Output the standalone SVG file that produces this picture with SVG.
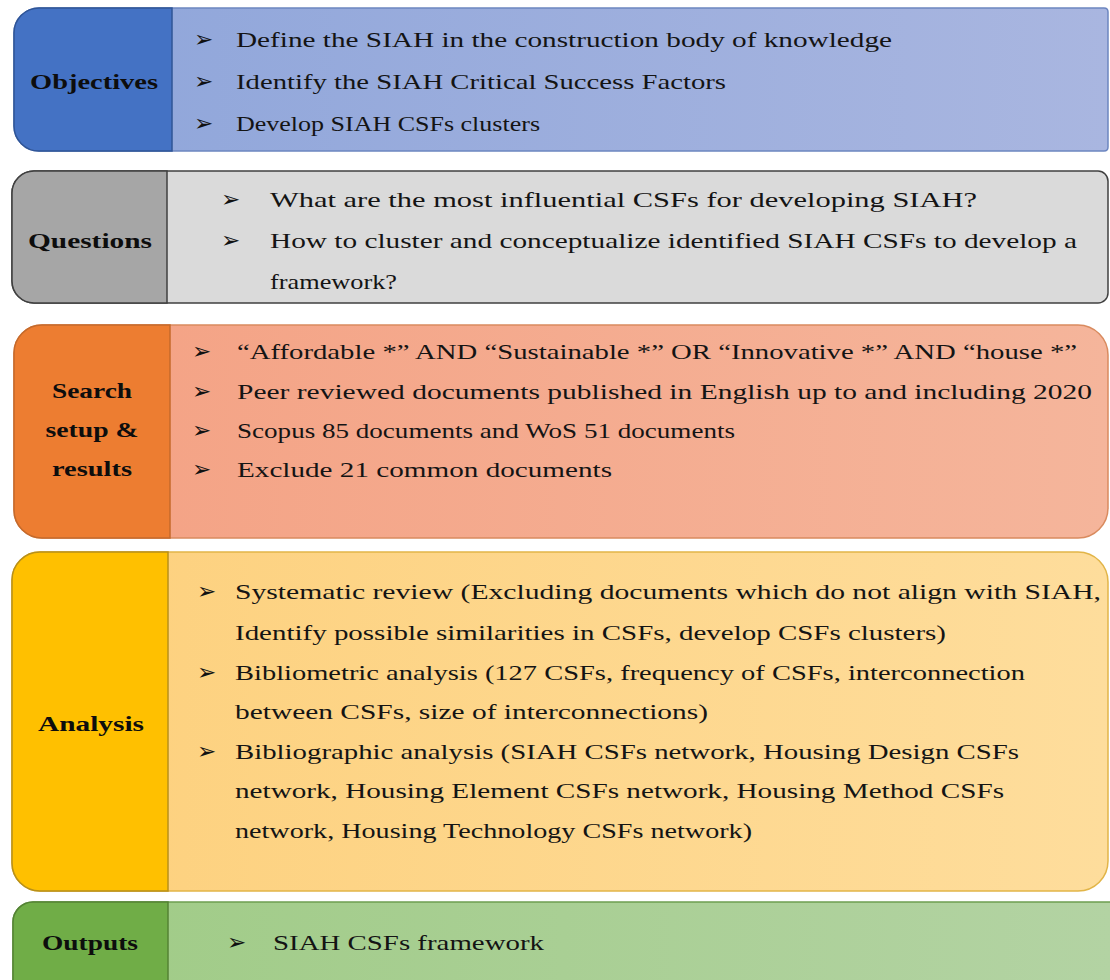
<svg xmlns="http://www.w3.org/2000/svg" width="1110" height="980" viewBox="0 0 1110 980">
<style>
  .t { font-family: "Liberation Serif", "Times New Roman", serif; font-size: 22px; fill: #141414; }
  .lb { font-family: "Liberation Serif", "Times New Roman", serif; font-size: 22px; font-weight: bold; fill: #0d0d0d; text-anchor: middle; }
  .b { font-family: "DejaVu Sans", sans-serif; font-size: 23px; fill: #111; }
</style>
<defs>
  <linearGradient id="gObj" x1="0" x2="1" y1="0" y2="0"><stop offset="0" stop-color="#8EA5DA"/><stop offset="1" stop-color="#A9B6E0"/></linearGradient>
  <linearGradient id="gSea" x1="0" x2="1" y1="0" y2="0"><stop offset="0" stop-color="#F4A183"/><stop offset="1" stop-color="#F5B59B"/></linearGradient>
  <linearGradient id="gAna" x1="0" x2="1" y1="0" y2="0"><stop offset="0" stop-color="#FDD07C"/><stop offset="1" stop-color="#FEDD9C"/></linearGradient>
  <linearGradient id="gOut" x1="0" x2="1" y1="0" y2="0"><stop offset="0" stop-color="#9FCB85"/><stop offset="1" stop-color="#B3D3A3"/></linearGradient>
</defs>
<rect width="1110" height="980" fill="#ffffff"/>

<g id="objectives">
  <path d="M39,8 H1104 Q1108,8 1108,12 V147 Q1108,151 1104,151 H39 A25,25 0 0 1 14,126 V33 A25,25 0 0 1 39,8 Z" fill="url(#gObj)" stroke="#6C86C0" stroke-width="1.5"/>
  <path d="M39,8 H172 V151 H39 A25,25 0 0 1 14,126 V33 A25,25 0 0 1 39,8 Z" fill="#4472C4" stroke="#2F5597" stroke-width="1.5"/>
  <text class="lb" x="94" y="89" textLength="128" lengthAdjust="spacingAndGlyphs">Objectives</text>
  <text class="b" x="194" y="47">➢</text>
  <text class="t" x="236" y="47" textLength="656" lengthAdjust="spacingAndGlyphs">Define the SIAH in the construction body of knowledge</text>
  <text class="b" x="194" y="89">➢</text>
  <text class="t" x="236" y="89" textLength="490" lengthAdjust="spacingAndGlyphs">Identify the SIAH Critical Success Factors</text>
  <text class="b" x="194" y="131">➢</text>
  <text class="t" x="236" y="131" textLength="304" lengthAdjust="spacingAndGlyphs">Develop SIAH CSFs clusters</text>
</g>

<g id="questions">
  <path d="M34,171 H1098 A10,10 0 0 1 1108,181 V293 A10,10 0 0 1 1098,303 H34 A22,22 0 0 1 12,281 V193 A22,22 0 0 1 34,171 Z" fill="#DADADA" stroke="#404040" stroke-width="1.5"/>
  <path d="M34,171 H167 V303 H34 A22,22 0 0 1 12,281 V193 A22,22 0 0 1 34,171 Z" fill="#A6A6A6" stroke="#404040" stroke-width="1.5"/>
  <text class="lb" x="90" y="248" textLength="124" lengthAdjust="spacingAndGlyphs">Questions</text>
  <text class="b" x="221" y="207">➢</text>
  <text class="t" x="270" y="207" textLength="707" lengthAdjust="spacingAndGlyphs">What are the most influential CSFs for developing SIAH?</text>
  <text class="b" x="221" y="248">➢</text>
  <text class="t" x="270" y="248" textLength="807" lengthAdjust="spacingAndGlyphs">How to cluster and conceptualize identified SIAH CSFs to develop a</text>
  <text class="t" x="270" y="289" textLength="127" lengthAdjust="spacingAndGlyphs">framework?</text>
</g>

<g id="search">
  <path d="M42,325 H1078 A30,30 0 0 1 1108,355 V508 A30,30 0 0 1 1078,538 H42 A28,28 0 0 1 14,510 V353 A28,28 0 0 1 42,325 Z" fill="url(#gSea)" stroke="#D98B5F" stroke-width="1.5"/>
  <path d="M42,325 H170 V538 H42 A28,28 0 0 1 14,510 V353 A28,28 0 0 1 42,325 Z" fill="#ED7D31" stroke="#C56A2B" stroke-width="1.5"/>
  <text class="lb" x="92" y="398" textLength="80" lengthAdjust="spacingAndGlyphs">Search</text>
  <text class="lb" x="92" y="437" textLength="93" lengthAdjust="spacingAndGlyphs">setup &amp;</text>
  <text class="lb" x="92" y="476" textLength="80" lengthAdjust="spacingAndGlyphs">results</text>
  <text class="b" x="192" y="359">➢</text>
  <text class="t" x="237" y="359" textLength="840" lengthAdjust="spacingAndGlyphs">“Affordable *” AND “Sustainable *” OR “Innovative *” AND “house *”</text>
  <text class="b" x="192" y="399">➢</text>
  <text class="t" x="237" y="399" textLength="855" lengthAdjust="spacingAndGlyphs">Peer reviewed documents published in English up to and including 2020</text>
  <text class="b" x="192" y="438">➢</text>
  <text class="t" x="237" y="438" textLength="498" lengthAdjust="spacingAndGlyphs">Scopus 85 documents and WoS 51 documents</text>
  <text class="b" x="192" y="477">➢</text>
  <text class="t" x="237" y="477" textLength="375" lengthAdjust="spacingAndGlyphs">Exclude 21 common documents</text>
</g>

<g id="analysis">
  <path d="M40,552 H1078 A30,30 0 0 1 1108,582 V861 A30,30 0 0 1 1078,891 H40 A28,28 0 0 1 12,863 V580 A28,28 0 0 1 40,552 Z" fill="url(#gAna)" stroke="#E2B548" stroke-width="1.5"/>
  <path d="M40,552 H168 V891 H40 A28,28 0 0 1 12,863 V580 A28,28 0 0 1 40,552 Z" fill="#FFC000" stroke="#B8901A" stroke-width="1.5"/>
  <text class="lb" x="91" y="731" textLength="106" lengthAdjust="spacingAndGlyphs">Analysis</text>
  <text class="b" x="197" y="599">➢</text>
  <text class="t" x="235" y="599" textLength="866" lengthAdjust="spacingAndGlyphs">Systematic review (Excluding documents which do not align with SIAH,</text>
  <text class="t" x="235" y="640" textLength="711" lengthAdjust="spacingAndGlyphs">Identify possible similarities in CSFs, develop CSFs clusters)</text>
  <text class="b" x="197" y="680">➢</text>
  <text class="t" x="235" y="680" textLength="790" lengthAdjust="spacingAndGlyphs">Bibliometric analysis (127 CSFs, frequency of CSFs, interconnection</text>
  <text class="t" x="235" y="719" textLength="473" lengthAdjust="spacingAndGlyphs">between CSFs, size of interconnections)</text>
  <text class="b" x="197" y="759">➢</text>
  <text class="t" x="235" y="759" textLength="784" lengthAdjust="spacingAndGlyphs">Bibliographic analysis (SIAH CSFs network, Housing Design CSFs</text>
  <text class="t" x="235" y="798" textLength="769" lengthAdjust="spacingAndGlyphs">network, Housing Element CSFs network, Housing Method CSFs</text>
  <text class="t" x="235" y="838" textLength="517" lengthAdjust="spacingAndGlyphs">network, Housing Technology CSFs network)</text>
</g>

<g id="outputs">
  <path d="M33,902 H1112 V990 H13 V922 A20,20 0 0 1 33,902 Z" fill="url(#gOut)" stroke="#6E9E50" stroke-width="1.5"/>
  <path d="M33,902 H168 V990 H13 V922 A20,20 0 0 1 33,902 Z" fill="#70AD47" stroke="#548235" stroke-width="1.5"/>
  <text class="lb" x="90" y="950" textLength="96" lengthAdjust="spacingAndGlyphs">Outputs</text>
  <text class="b" x="227" y="950">➢</text>
  <text class="t" x="273" y="950" textLength="271" lengthAdjust="spacingAndGlyphs">SIAH CSFs framework</text>
</g>

<g id="connectors"></g>
</svg>
